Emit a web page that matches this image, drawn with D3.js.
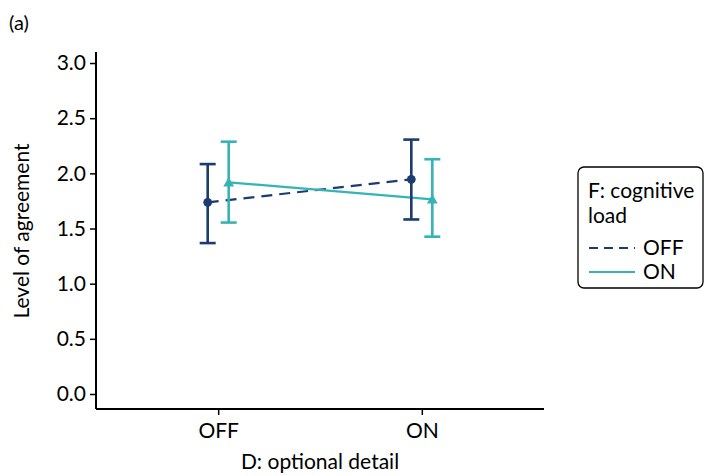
<!DOCTYPE html>
<html><head><meta charset="utf-8">
<script src="https://cdn.jsdelivr.net/npm/d3@7"></script>
<style>body{margin:0;background:#fff;} text{font-family:Lato,"Open Sans",sans-serif;}</style>
</head><body>
<svg id="chart" width="707" height="476"></svg>
<script>
const categories = ["OFF", "ON"];
const seriesNames = ["OFF", "ON"];
const offMean = [1.737, 1.946];
const offLow = [1.368, 1.582];
const offHigh = [2.084, 2.306];
const onMean = [1.919, 1.765];
const onLow = [1.554, 1.426];
const onHigh = [2.287, 2.128];
const yTicks = [0.0, 0.5, 1.0, 1.5, 2.0, 2.5, 3.0];

const colors = {OFF: "#1c3b6f", ON: "#35b3b5"};
const series = [
  {name: "OFF", mean: offMean, low: offLow, high: offHigh, dash: "11,7", shape: d3.symbolCircle, dodge: -10.5},
  {name: "ON", mean: onMean, low: onLow, high: onHigh, dash: null, shape: d3.symbolTriangle, dodge: 10.5}
];
const FS = "21px";

const svg = d3.select("#chart");
const x = d3.scalePoint().domain(categories).range([96, 544]).padding(0.6);
const y = d3.scaleLinear().domain([-0.136, 3.1]).range([409, 52]);

const yAxis = svg.append("g").attr("transform", "translate(96,0)")
  .call(d3.axisLeft(y).tickValues(yTicks).tickFormat(d3.format(".1f")).tickSizeInner(6).tickSizeOuter(0));
const xAxis = svg.append("g").attr("transform", "translate(0,409)")
  .call(d3.axisBottom(x).tickSizeInner(6).tickSizeOuter(0));
[yAxis, xAxis].forEach(g => {
  g.select(".domain").attr("stroke", "#000").attr("stroke-width", 2);
  g.selectAll(".tick line").attr("stroke", "#000").attr("stroke-width", 1.5);
  g.selectAll(".tick text").attr("fill", "#000").style("font-size", FS).style("font-family", "Lato");
});
yAxis.selectAll(".tick text").attr("x", -10);
xAxis.selectAll(".tick text").attr("y", 14);
yAxis.select(".domain").attr("d", `M0,${y(3.1)}V${409}`);
xAxis.select(".domain").attr("d", `M96,0H544`);

svg.append("text").attr("transform", "translate(29,231) rotate(-90)").attr("text-anchor", "middle")
  .style("font-size", FS).text("Level of agreement");
svg.append("text").attr("x", 320).attr("y", 469).attr("text-anchor", "middle")
  .style("font-size", FS).text("D: optional detail");
svg.append("text").attr("x", 9).attr("y", 30).style("font-size", "20px").text("(a)");

series.forEach(s => {
  const pts = categories.map((c, i) => [x(c) + s.dodge, y(s.mean[i])]);
  svg.append("path").attr("d", d3.line()(pts)).attr("fill", "none")
    .attr("stroke", colors[s.name]).attr("stroke-width", 2.2)
    .attr("stroke-dasharray", s.dash);
});
series.forEach(s => {
  categories.forEach((c, i) => {
    const cx = x(c) + s.dodge;
    const g = svg.append("g").attr("stroke", colors[s.name]).attr("stroke-width", 2.6);
    g.append("line").attr("x1", cx).attr("x2", cx).attr("y1", y(s.low[i])).attr("y2", y(s.high[i]));
    g.append("line").attr("x1", cx - 8).attr("x2", cx + 8).attr("y1", y(s.low[i])).attr("y2", y(s.low[i]));
    g.append("line").attr("x1", cx - 8).attr("x2", cx + 8).attr("y1", y(s.high[i])).attr("y2", y(s.high[i]));
    svg.append("path").attr("d", d3.symbol().type(s.shape).size(s.name === "OFF" ? 60 : 50)())
      .attr("transform", `translate(${cx},${y(s.mean[i]) + (s.name === "ON" ? 1 : 0)})`)
      .attr("fill", colors[s.name]);
  });
});

const lg = svg.append("g");
lg.append("rect").attr("x", 578).attr("y", 167).attr("width", 125).attr("height", 121)
  .attr("rx", 6).attr("fill", "#fff").attr("stroke", "#000").attr("stroke-width", 1.3);
lg.append("text").attr("x", 588).attr("y", 198).style("font-size", FS).text("F: cognitive");
lg.append("text").attr("x", 588).attr("y", 223).style("font-size", FS).text("load");
series.forEach((s, i) => {
  const ly = 248 + i * 24;
  lg.append("line").attr("x1", 589).attr("x2", 635).attr("y1", ly).attr("y2", ly)
    .attr("stroke", colors[s.name]).attr("stroke-width", 2).attr("stroke-dasharray", s.dash ? "9,6" : null);
  lg.append("text").attr("x", 643).attr("y", ly + 7).style("font-size", FS).text(seriesNames[i]);
});
</script>
</body></html>
